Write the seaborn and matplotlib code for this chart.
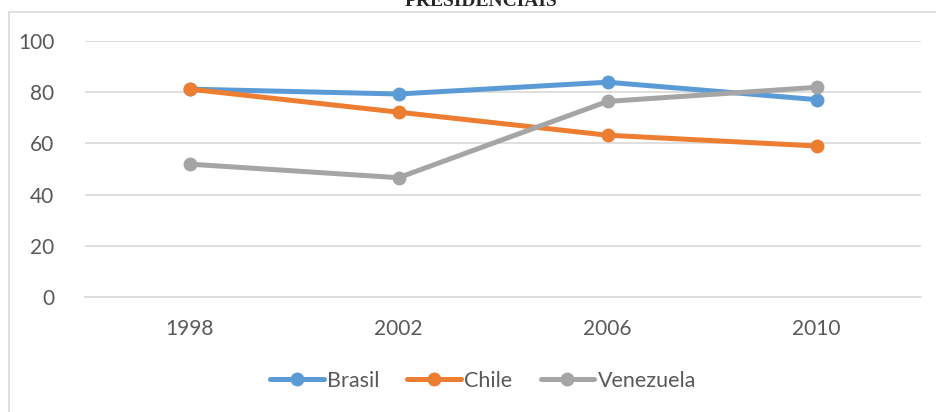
import matplotlib
matplotlib.use("Agg")
import matplotlib.pyplot as plt
import seaborn as sns
import pandas as pd
from matplotlib.lines import Line2D

years = ["1998", "2002", "2006", "2010"]
brasil = [81.2, 79.3, 83.9, 77.1]
chile = [81.2, 72.2, 63.2, 59.0]
venezuela = [51.9, 46.6, 76.4, 81.9]
series_names = ["Brasil", "Chile", "Venezuela"]
colors = ["#5B9BD5", "#ED7D31", "#A5A5A5"]
title = "PRESIDENCIAIS"

rows = []
for name, vals in zip(series_names, [brasil, chile, venezuela]):
    for y, v in zip(years, vals):
        rows.append({"Ano": y, "Valor": v, "País": name})
df = pd.DataFrame(rows)

sns.set_theme(style="white")
plt.rcParams["font.family"] = ["Lato", "DejaVu Sans"]

fig = plt.figure(figsize=(9.36, 4.12), dpi=100)
ax = fig.add_axes([85 / 936, 1 - 297 / 412, (921 - 85) / 936, (297 - 41) / 412])

sns.lineplot(data=df, x="Ano", y="Valor", hue="País", palette=colors,
             marker="o", markersize=10, linewidth=3.6, markeredgewidth=0,
             ax=ax, legend=False, sort=False)

ax.set_xlim(-0.5, 3.5)
ax.set_ylim(0, 100)
ax.set_yticks([0, 20, 40, 60, 80, 100])
ax.yaxis.grid(True, color="#D9D9D9", linewidth=1.2)
ax.xaxis.grid(False)
for s in ax.spines.values():
    s.set_visible(False)
ax.spines["bottom"].set_visible(True)
ax.spines["bottom"].set_color("#D9D9D9")
ax.spines["bottom"].set_linewidth(1.2)
ax.set_xlabel("")
ax.set_ylabel("")
ax.tick_params(axis="both", length=0, labelsize=15, labelcolor="#595959")
ax.tick_params(axis="y", pad=22)
ax.tick_params(axis="x", pad=16)

handles = [Line2D([0], [0], color=c, linewidth=3.6, marker="o", markersize=10,
                  markeredgewidth=0) for c in colors]
fig.legend(handles, series_names, loc="center", bbox_to_anchor=(483 / 936, 1 - 381 / 412),
           ncol=3, frameon=False, fontsize=15.5, labelcolor="#595959",
           handlelength=2.5, handletextpad=0.15, columnspacing=1.3)

fig.text(481 / 936, 1 - 6 / 412, title, ha="center", va="baseline",
         fontsize=14, fontweight="bold", family=["Liberation Serif", "DejaVu Serif"],
         color="#262626")

# chart frame lines (top and left)
fig.add_artist(Line2D([9 / 936, 1], [1 - 12 / 412, 1 - 12 / 412], color="#D9D9D9",
                      linewidth=1.2, transform=fig.transFigure))
fig.add_artist(Line2D([9 / 936, 9 / 936], [0, 1 - 12 / 412], color="#D9D9D9",
                      linewidth=1.2, transform=fig.transFigure))

fig.savefig("out.png", dpi=100)
